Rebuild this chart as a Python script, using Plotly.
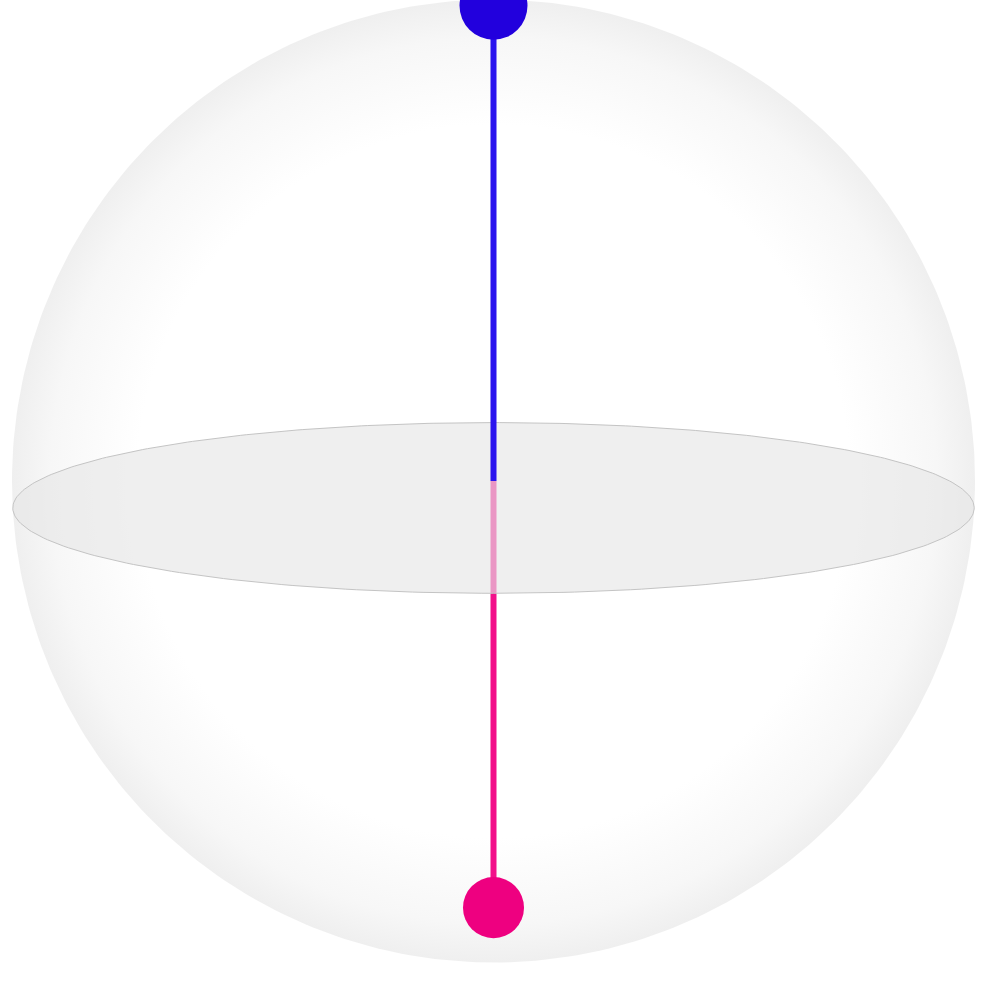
import numpy as np
import plotly.graph_objects as go

# ---- data: Bloch vectors of the two basis states ----
state_labels = ["|0⟩", "|1⟩"]
bloch_x = [0.0, 0.0]
bloch_y = [0.0, 0.0]
bloch_z = [1.0, -1.0]
state_colors = ["#2200dd", "#ee0080"]
line_colors = ["#2a14ee", "#f2108a"]

# ---- perspective camera ----
ELEV = np.radians(9.7)
DIST = 3.124
FOCAL = np.sqrt(DIST**2 - 1.0)
S, C = np.sin(ELEV), np.cos(ELEV)
PX_PER_UNIT = 481.5
DOT_RADIUS = 0.0705


def project(x, y, z):
    x = np.asarray(x, float); y = np.asarray(y, float); z = np.asarray(z, float)
    qy = y + DIST * C
    qz = z - DIST * S
    depth = qy * C - qz * S
    up = qy * S + qz * C
    return FOCAL * x / depth, FOCAL * up / depth, depth


t = np.linspace(0, 2 * np.pi, 361)
fig = go.Figure()

# sphere silhouette
r_sil = FOCAL / np.sqrt(DIST**2 - 1.0)
fig.add_trace(go.Scatter(
    x=r_sil * np.cos(t), y=r_sil * np.sin(t), mode="lines",
    line=dict(width=0, color="rgba(0,0,0,0)"), fill="toself",
    fillgradient=dict(type="radial",
                      colorscale=[[0, "#ffffff"], [0.74, "#ffffff"],
                                  [0.92, "#f7f7f7"], [1, "#efefef"]]),
    hoverinfo="skip", showlegend=False))

ox, oy, _ = project(0, 0, 0)
# lower state vector (partly behind the equatorial disk)
for i in range(len(state_labels)):
    if bloch_z[i] < 0:
        px, py, _ = project(bloch_x[i], bloch_y[i], bloch_z[i])
        fig.add_trace(go.Scatter(x=[float(ox), float(px)], y=[float(oy), float(py)], mode="lines",
                                 line=dict(color=line_colors[i], width=6),
                                 hoverinfo="skip", showlegend=False))

# equatorial disk
ex, ey, _ = project(np.cos(t), np.sin(t), np.zeros_like(t))
fig.add_trace(go.Scatter(
    x=ex, y=ey, mode="lines", line=dict(color="#c4c4c4", width=1),
    fill="toself", fillcolor="rgba(230,230,230,0.63)",
    hoverinfo="skip", showlegend=False))

# upper state vector
for i in range(len(state_labels)):
    if bloch_z[i] >= 0:
        px, py, _ = project(bloch_x[i], bloch_y[i], bloch_z[i])
        fig.add_trace(go.Scatter(x=[float(ox), float(px)], y=[float(oy), float(py)], mode="lines",
                                 line=dict(color=line_colors[i], width=6),
                                 hoverinfo="skip", showlegend=False))

# state points
for i in range(len(state_labels)):
    px, py, depth = project(bloch_x[i], bloch_y[i], bloch_z[i])
    size = 2 * FOCAL * DOT_RADIUS / float(depth) * PX_PER_UNIT
    fig.add_trace(go.Scatter(x=[float(px)], y=[float(py)], mode="markers",
                             marker=dict(color=state_colors[i], size=size, line=dict(width=0)),
                             name=state_labels[i], hoverinfo="name", showlegend=False))

W, H = 989, 1004
cx_px, cy_px = 493.5, 481.0
fig.update_layout(
    width=W, height=H, margin=dict(l=0, r=0, t=0, b=0),
    paper_bgcolor="white", plot_bgcolor="white",
    xaxis=dict(range=[-cx_px / PX_PER_UNIT, (W - cx_px) / PX_PER_UNIT], visible=False, fixedrange=True),
    yaxis=dict(range=[-(H - cy_px) / PX_PER_UNIT, cy_px / PX_PER_UNIT], visible=False, fixedrange=True),
)
fig.write_html("out.html", config={"displayModeBar": False},
               post_script="document.body.style.margin='0';document.body.style.overflow='hidden';")
